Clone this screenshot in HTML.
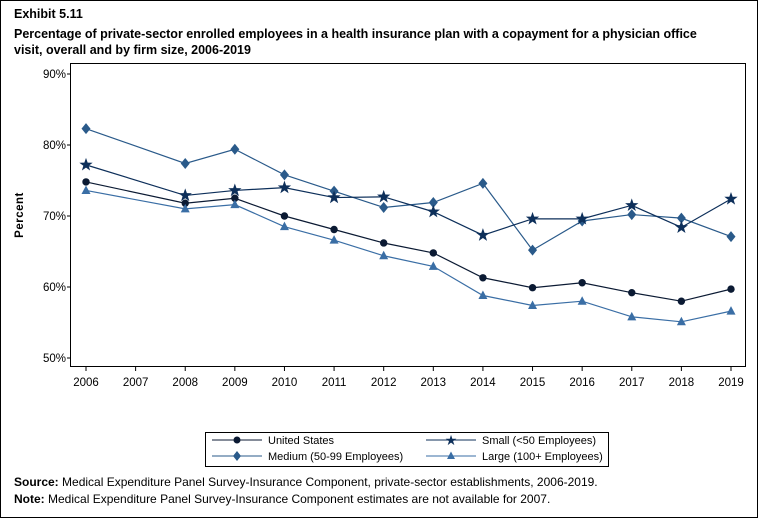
<!DOCTYPE html>
<html><head><style>body{margin:0;background:#fff}svg{display:block;font-family:"Liberation Sans",Arial,sans-serif}</style></head><body>
<svg width="758" height="518" viewBox="0 0 758 518" xmlns="http://www.w3.org/2000/svg">
<rect x="0.5" y="0.5" width="757" height="517" fill="#fff" stroke="#000"/>
<text x="14" y="18" font-size="12.5" font-weight="bold">Exhibit 5.11</text>
<text x="14" y="38" font-size="12.5" font-weight="bold">Percentage of private-sector enrolled employees in a health insurance plan with a copayment for a physician office</text>
<text x="14" y="54" font-size="12.5" font-weight="bold">visit, overall and by firm size, 2006-2019</text>
<rect x="70.5" y="63.5" width="675" height="303" fill="none" stroke="#000"/>
<g font-size="11.5" text-anchor="end">
<text x="66" y="78">90%</text><text x="66" y="149">80%</text><text x="66" y="220">70%</text><text x="66" y="291">60%</text><text x="66" y="362">50%</text>
</g>
<g stroke="#000"><line x1="67" y1="74" x2="70" y2="74"/><line x1="67" y1="145" x2="70" y2="145"/><line x1="67" y1="216" x2="70" y2="216"/><line x1="67" y1="287" x2="70" y2="287"/><line x1="67" y1="358" x2="70" y2="358"/></g>
<text transform="translate(23,215) rotate(-90)" font-size="11.5" font-weight="bold" text-anchor="middle" letter-spacing="0.5">Percent</text>
<g id="xt" font-size="11.5" text-anchor="middle"></g>
<g id="series"></g>
<rect x="205.5" y="432.5" width="403" height="34" fill="none" stroke="#000"/>
<g font-size="11">
<line x1="212" y1="440" x2="262" y2="440" stroke="#0b1a33"/><circle cx="237" cy="440" r="3.5" fill="#0b1a33"/><text x="268" y="444">United States</text>
<line x1="426" y1="440" x2="476" y2="440" stroke="#0d2f5a"/><text x="451" y="445" font-size="14" text-anchor="middle" fill="#0d2f5a">★</text><text x="482" y="444">Small (&lt;50 Employees)</text>
<line x1="212" y1="456" x2="262" y2="456" stroke="#2a5a8a"/><polygon points="237,451 241,456 237,461 233,456" fill="#2a5a8a"/><text x="268" y="460">Medium (50-99 Employees)</text>
<line x1="426" y1="456" x2="476" y2="456" stroke="#3a6ea5"/><polygon points="451,451.5 455,459 447,459" fill="#3a6ea5"/><text x="482" y="460">Large (100+ Employees)</text>
</g>
<text x="14" y="486" font-size="12"><tspan font-weight="bold">Source:</tspan> Medical Expenditure Panel Survey-Insurance Component, private-sector establishments, 2006-2019.</text>
<text x="14" y="503" font-size="12"><tspan font-weight="bold">Note:</tspan> Medical Expenditure Panel Survey-Insurance Component estimates are not available for 2007.</text>
</svg>
<script>
const ns="http://www.w3.org/2000/svg";
const X=y=>86+(y-2006)*(645/13), Y=v=>145-(v-80)*7.1;
const xt=document.getElementById('xt'), sg=document.getElementById('series');
for(let y=2006;y<=2019;y++){const t=document.createElementNS(ns,'text');t.setAttribute('x',X(y));t.setAttribute('y',386);t.textContent=y;xt.appendChild(t);
const l=document.createElementNS(ns,'line');l.setAttribute('x1',X(y));l.setAttribute('x2',X(y));l.setAttribute('y1',367);l.setAttribute('y2',371);l.setAttribute('stroke','#000');xt.appendChild(l);}
const yrs=[2006,2008,2009,2010,2011,2012,2013,2014,2015,2016,2017,2018,2019];
const S=[
["#2a5a8a","d",[82.3,77.4,79.4,75.8,73.5,71.2,71.9,74.6,65.2,69.3,70.2,69.7,67.1]],
["#0d2f5a","s",[77.2,72.9,73.6,74.0,72.6,72.7,70.6,67.3,69.6,69.6,71.5,68.4,72.4]],
["#0b1a33","c",[74.8,71.8,72.5,70.0,68.1,66.2,64.8,61.3,59.9,60.6,59.2,58.0,59.7]],
["#3a6ea5","t",[73.6,71.0,71.6,68.5,66.6,64.4,62.9,58.8,57.4,58.0,55.8,55.1,56.6]]];
S.forEach(([c,m,v])=>{const p=document.createElementNS(ns,'polyline');p.setAttribute('points',v.map((a,i)=>X(yrs[i])+','+Y(a)).join(' '));p.setAttribute('fill','none');p.setAttribute('stroke',c);p.setAttribute('stroke-width','1.2');sg.appendChild(p);
v.forEach((a,i)=>{const x=X(yrs[i]),y=Y(a);let e;
if(m=='c'){e=document.createElementNS(ns,'circle');e.setAttribute('cx',x);e.setAttribute('cy',y);e.setAttribute('r',3.7);}
else if(m=='d'){e=document.createElementNS(ns,'polygon');e.setAttribute('points',`${x},${y-5.5} ${x+4.5},${y} ${x},${y+5.5} ${x-4.5},${y}`);}
else if(m=='t'){e=document.createElementNS(ns,'polygon');e.setAttribute('points',`${x},${y-5} ${x+4.5},${y+3.5} ${x-4.5},${y+3.5}`);}
else{e=document.createElementNS(ns,'polygon');let pts=[];for(let k=0;k<10;k++){const r=k%2?2.8:7,an=-Math.PI/2+k*Math.PI/5;pts.push((x+r*Math.cos(an)).toFixed(2)+','+(y+r*Math.sin(an)).toFixed(2));}e.setAttribute('points',pts.join(' '));}
e.setAttribute('fill',c);sg.appendChild(e);});});
</script>
</body></html>
